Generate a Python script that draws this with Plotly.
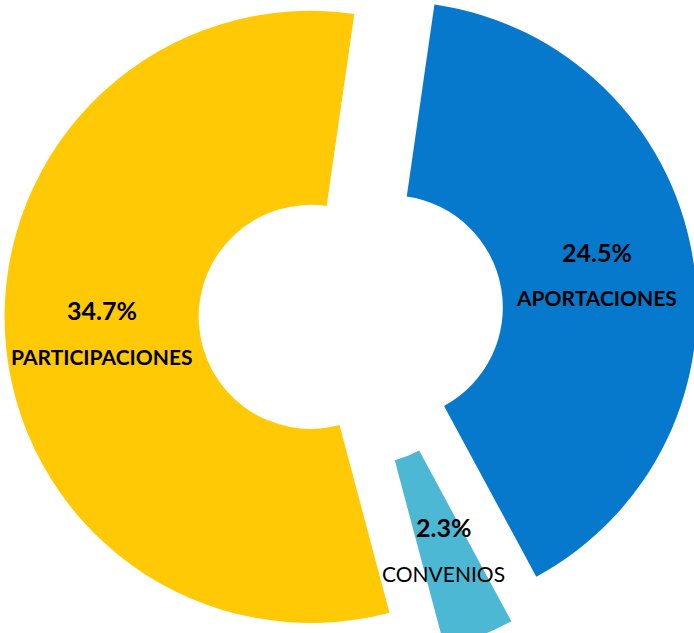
import math
import plotly.graph_objects as go

# ---- data ----
categories = ["APORTACIONES", "CONVENIOS", "PARTICIPACIONES"]
percent_values = [24.5, 2.3, 34.7]
percent_labels = ["24.5%", "2.3%", "34.7%"]
label_bold = [True, False, True]

# ---- style ----
colors = ["#0779CD", "#4DB8D4", "#FFC905"]
W, H = 702, 693          # canvas is larger than the window; the reference is cropped
TOP_OFFSET = 32          # px the canvas is shifted up
ROTATION = 8.2
PULL = 0.132
HOLE = 0.366
FONT = "Lato"

fig = go.Figure(
    go.Pie(
        labels=categories,
        values=percent_values,
        sort=False,
        direction="clockwise",
        rotation=ROTATION,
        pull=PULL,
        hole=HOLE,
        marker=dict(colors=colors, line=dict(width=0)),
        textinfo="none",
        hoverinfo="label+value",
        showlegend=False,
    )
)

# label positions derived from slice angles (mid-radius on each bisector)
total = sum(percent_values)
r = min(W, H) / 2 / (1 + PULL)
dist = r * (PULL + (1 + HOLE) / 2)
annotations = []
cum = 0.0
for cat, v, lab, bold in zip(categories, percent_values, percent_labels, label_bold):
    mid = math.radians(ROTATION + (cum + v / 2) / total * 360)
    cum += v
    x = 0.5 + dist * math.sin(mid) / W
    y = 0.5 + dist * math.cos(mid) / H
    annotations.append(dict(
        x=x, y=y, xref="paper", yref="paper", showarrow=False,
        xanchor="center", yanchor="middle",
        text=f"<b>{lab}</b>", yshift=19,
        font=dict(family=FONT, size=25, color="#000000"),
    ))
    annotations.append(dict(
        x=x, y=y, xref="paper", yref="paper", showarrow=False,
        xanchor="center", yanchor="middle",
        text=f"<b>{cat}</b>" if bold else cat, yshift=-27,
        font=dict(family=FONT, size=21, color="#000000"),
    ))

fig.update_layout(
    width=W, height=H,
    margin=dict(l=0, r=0, t=0, b=0),
    paper_bgcolor="white",
    plot_bgcolor="white",
    annotations=annotations,
)

post = (
    "document.body.style.margin='0';"
    "document.body.style.overflow='hidden';"
    "var gd=document.getElementById('{plot_id}');"
    "gd.style.position='absolute';gd.style.left='0px';"
    f"gd.style.top='-{TOP_OFFSET}px';"
)
fig.write_html("out.html", post_script=post)
